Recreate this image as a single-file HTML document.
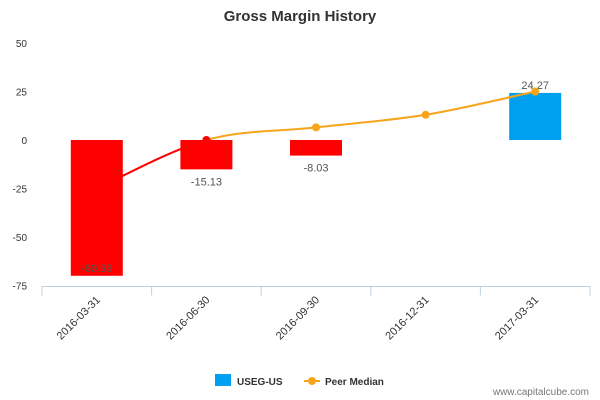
<!DOCTYPE html>
<html><head><meta charset="utf-8"><style>
body{margin:0;background:#fff;font-family:"Liberation Sans",sans-serif}
svg{display:block}
</style></head><body>
<svg id="c" width="600" height="400" viewBox="0 0 600 400">
<text x="300" y="21" text-anchor="middle" font-size="15" font-weight="bold" fill="#333">Gross Margin History</text>
<g id="yax"></g>
<g id="xax"></g>
<g id="bars"></g>
<g id="line"></g>
<g>
<g><rect x="215" y="374" width="16" height="12" fill="#00a0f0"/><text x="237" y="385" font-size="10" font-weight="bold" fill="#333">USEG-US</text></g>
<g><line x1="304" y1="381" x2="320" y2="381" stroke="#f7a51b" stroke-width="2"/><circle cx="312" cy="381" r="4" fill="#f7a51b"/><text x="325" y="385" font-size="10" font-weight="bold" fill="#333">Peer Median</text></g>
</g>
<text x="589" y="395" text-anchor="end" font-size="10" fill="#777">www.capitalcube.com</text>
</svg>
<script>
const categories=["2016-03-31","2016-06-30","2016-09-30","2016-12-31","2017-03-31"];
const barValues=[-69.98,-15.13,-8.03,null,24.27];
const peerMedian=[-25,0,6.5,13,25];
const yTicks=[50,25,0,-25,-50,-75];
const NS="http://www.w3.org/2000/svg";
const L=42,R=590,Y0=140,PPU=48.5/25;
const bw=(R-L)/categories.length;
const x=i=>L+bw*(i+0.5);
const y=v=>Y0-v*PPU;
function mk(t,a,p){const e=document.createElementNS(NS,t);for(const k in a)e.setAttribute(k,a[k]);p.appendChild(e);return e;}
const yax=document.getElementById('yax');
yTicks.forEach(t=>{const e=mk('text',{x:27,y:y(t)+4,'text-anchor':'end','font-size':10,fill:'#333'},yax);e.textContent=t;

});
const xax=document.getElementById('xax');
const ay=y(-75)+1;
mk('line',{x1:L,y1:ay,x2:R,y2:ay,stroke:'#c0d0e0'},xax);
for(let i=0;i<=categories.length;i++){const tx=L+bw*i;mk('line',{x1:tx,y1:ay,x2:tx,y2:ay+9,stroke:'#c0d0e0'},xax);}
categories.forEach((c,i)=>{const e=mk('text',{x:x(i)+4,y:ay+14,'text-anchor':'end','font-size':11,fill:'#333',transform:`rotate(-45 ${x(i)+4} ${ay+14})`},xax);e.textContent=c;

});
const bars=document.getElementById('bars');
barValues.forEach((v,i)=>{if(v===null)return;const w=52;const top=Math.min(y(v),Y0),h=Math.abs(y(v)-Y0);
const r=mk('rect',{x:x(i)-w/2,y:top,width:w,height:h,fill:v<0?'#ff0000':'#00a0f0'},bars);


const ly=v<0?(h>60?y(v)-4:y(v)+16):y(v)-4;
const t=mk('text',{x:x(i),y:ly,'text-anchor':'middle','font-size':11,fill:'#555'},bars);t.textContent=v.toFixed(2);

});
const g=document.getElementById('line');
const P=peerMedian.map((v,i)=>[x(i),y(v)]);
let d=`M${P[0][0]},${P[0][1]}`;
for(let i=0;i<P.length-1;i++){const p0=P[Math.max(i-1,0)],p1=P[i],p2=P[i+1],p3=P[Math.min(i+2,P.length-1)];
d+=` C${p1[0]+(p2[0]-p0[0])/6},${p1[1]+(p2[1]-p0[1])/6} ${p2[0]-(p3[0]-p1[0])/6},${p2[1]-(p3[1]-p1[1])/6} ${p2[0]},${p2[1]}`;}
const defs=mk('defs',{},g);
const cpA=mk('clipPath',{id:'above'},defs);mk('rect',{x:0,y:0,width:600,height:Y0},cpA);
const cpB=mk('clipPath',{id:'below'},defs);mk('rect',{x:0,y:Y0,width:600,height:400},cpB);
mk('path',{d:d,fill:'none',stroke:'#f7a51b','stroke-width':2,'clip-path':'url(#above)'},g);
mk('path',{d:d,fill:'none',stroke:'#ff0000','stroke-width':2,'clip-path':'url(#below)'},g);
peerMedian.forEach((v,i)=>{if(i===0)return;const c=mk('circle',{cx:x(i),cy:y(v),r:4,fill:v<=0?'#ff0000':'#f7a51b'},g);

});
</script>
</body></html>
